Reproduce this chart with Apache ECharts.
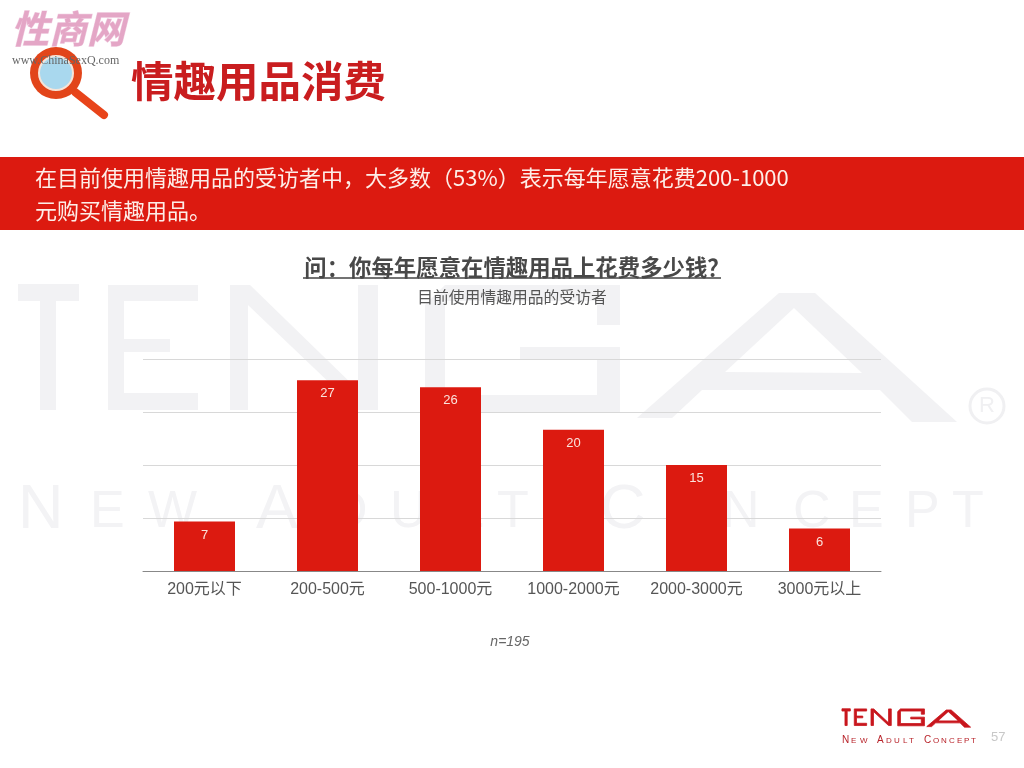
<!DOCTYPE html>
<html>
<head>
<meta charset="utf-8">
<title>情趣用品消费</title>
<style>
html,body{margin:0;padding:0;background:#fff;}
#main{width:1024px;height:768px;}
</style>
<script src="https://cdn.jsdelivr.net/npm/echarts@6/dist/echarts.min.js"></script>
</head>
<body>
<div id="main"></div>
<script>
var categories = ['200元以下','200-500元','500-1000元','1000-2000元','2000-3000元','3000元以上'];
var values = [7,27,26,20,15,6];

var FONT = '"Liberation Sans","Noto Sans CJK SC",sans-serif';
var CJK = '"Noto Sans CJK SC",sans-serif';
var RED = '#dc1a10';

// TENGA letter shapes, drawn at full watermark size, the small logo reuses them scaled down
function tengaLogo(color,x,y,sx,sy,z,weight){
    var polys = [
        [[18,284],[79,284],[79,301],[56,301],[56,410],[40,410],[40,301],[18,301]],
        [[108,285],[198,285],[198,301],[124,301],[124,339],[170,339],[170,352],[124,352],[124,393],[198,393],[198,410],[108,410]],
        [[230,285],[250,285],[358,390],[358,285],[378,285],[378,410],[358,410],[248,305],[248,410],[230,410]],
        [[445,285],[620,285],[620,325],[597,325],[597,301],[445,301],[445,395],[597,395],[597,360],[520,360],[520,347],[620,347],[620,412],[425,412],[425,305]],
        [[779,293],[815,293],[957,422],[912,422],[880,390],[702,390],[672,418],[637,418]],
    ];
    var children = polys.map(function(p){
        return {type:'polygon',shape:{points:p},style:{fill:color,stroke:color,lineWidth:weight}};
    });
    // hole of the A
    children.push({type:'polygon',shape:{points:[[794,308],[862,373],[725,372]]},style:{fill:'#fff'}});
    return {type:'group',x:x,y:y,scaleX:sx,scaleY:sy,z:z,silent:true,children:children};
}

// spaced out capitals, zrender text has no letter spacing
function spaced(list,color,font,z){
    return list.map(function(c){
        return {type:'text',x:c[1],y:c[2],z:z,silent:true,
            style:{text:c[0],fill:color,font:c[3]+'px '+font,align:'left',verticalAlign:'bottom'}};
    });
}

var wmLetters = [
    ['N',18,542,63],['E',90,539,52],['W',148,539,52],
    ['A',256,542,63],['D',330,539,52],['U',390,539,52],['L',455,539,52],['T',497,539,52],
    ['C',600,542,63],['O',672,539,52],['N',722,539,52],['C',793,539,52],['E',849,539,52],['P',905,539,52],['T',952,539,52]
];
var smallLetters = [
    ['N',842,745,10],['E',851,745,8],['W',860,745,8],
    ['A',877,745,10],['D',886,745,8],['U',894,745,8],['L',903,745,8],['T',909,745,8],
    ['C',924,745,10],['O',933,745,8],['N',941,745,8],['C',949,745,8],['E',957,745,8],['P',964,745,8],['T',971,745,8]
];

var graphics = [
    tengaLogo('#f2f2f4',0,0,1,1,-10,0),
    {type:'circle',z:-10,silent:true,shape:{cx:987,cy:406,r:17},style:{fill:'none',stroke:'#f0f0f2',lineWidth:3}},
    {type:'text',z:-10,silent:true,x:987,y:406,style:{text:'R',fill:'#f0f0f2',font:'22px '+FONT,align:'center',verticalAlign:'middle'}},

    // header
    {type:'line',shape:{x1:75,y1:92,x2:104,y2:115},style:{stroke:'#e8441a',lineWidth:8,lineCap:'round'}},
    {type:'circle',shape:{cx:56,cy:73,r:26},style:{fill:'#e2451a'}},
    {type:'circle',shape:{cx:56,cy:73,r:17},style:{fill:'#a9d8ee',stroke:'#f6e4d8',lineWidth:2}},
    {type:'text',x:11,y:29,style:{text:'性商网',fill:'#e4a6c6',stroke:'#f3d6e6',lineWidth:1,font:'italic bold 38px '+CJK,align:'left',verticalAlign:'middle'}},
    {type:'text',x:12,y:61,style:{text:'www.ChinaSexQ.com',fill:'#666',font:'12px "Liberation Serif",serif',align:'left',verticalAlign:'middle'}},
    {type:'text',x:131,y:81,style:{text:'情趣用品消费',fill:'#c91d1f',font:'bold 42.5px '+CJK,align:'left',verticalAlign:'middle'}},

    // banner
    {type:'rect',shape:{x:0,y:157,width:1024,height:73},style:{fill:RED}},
    {type:'text',x:35,y:178,style:{text:'在目前使用情趣用品的受访者中，大多数（53%）表示每年愿意花费200-1000',fill:'#fdeee8',font:'22px '+CJK,align:'left',verticalAlign:'middle'}},
    {type:'text',x:35,y:211,style:{text:'元购买情趣用品。',fill:'#fdeee8',font:'22px '+CJK,align:'left',verticalAlign:'middle'}},

    // question underline
    {type:'line',shape:{x1:303,y1:278,x2:721,y2:278},style:{stroke:'#444',lineWidth:1.5}},
    {type:'text',x:510,y:642,style:{text:'n=195',fill:'#666',font:'italic 14px '+FONT,align:'center',verticalAlign:'middle'}},

    // footer logo
    tengaLogo('#c8161d',839.5,671,0.137,0.133,1,6),
    {type:'text',x:991,y:737,style:{text:'57',fill:'#c8c8c8',font:'13px '+FONT,align:'left',verticalAlign:'middle'}}
].concat(spaced(wmLetters,'#f3f3f5',FONT,-10)).concat(spaced(smallLetters,'#b8232a',FONT,1));

var chart = echarts.init(document.getElementById('main'),null,{renderer:'canvas'});
chart.setOption({
    animation:false,
    backgroundColor:'#fff',
    title:[{
        text:'问：你每年愿意在情趣用品上花费多少钱？',
        left:512,
        textAlign:'center',
        top:251,
        textStyle:{fontFamily:CJK,fontSize:22.4,fontWeight:'bold',color:'#484848'}
    },{
        text:'目前使用情趣用品的受访者',
        left:507,
        textAlign:'center',
        top:284,
        textStyle:{fontFamily:CJK,fontSize:15.8,fontWeight:'normal',color:'#555'}
    }],
    grid:{left:143,right:143,top:359,bottom:197},
    xAxis:{
        type:'category',
        data:categories,
        axisTick:{show:false},
        axisLine:{lineStyle:{color:'#888',width:1}},
        axisLabel:{fontFamily:FONT,fontSize:16,color:'#555',margin:11,interval:0}
    },
    yAxis:{
        type:'value',
        min:0,
        max:30,
        interval:7.5,
        axisLabel:{show:false},
        axisLine:{show:false},
        axisTick:{show:false},
        splitLine:{lineStyle:{color:'#d8d8d8',width:1}}
    },
    series:[{
        type:'bar',
        data:values,
        barWidth:61,
        itemStyle:{color:RED},
        label:{show:true,position:'insideTop',distance:7,fontFamily:FONT,fontSize:13,color:'#fbe3dc'}
    }],
    graphic:graphics
});
</script>
</body>
</html>
